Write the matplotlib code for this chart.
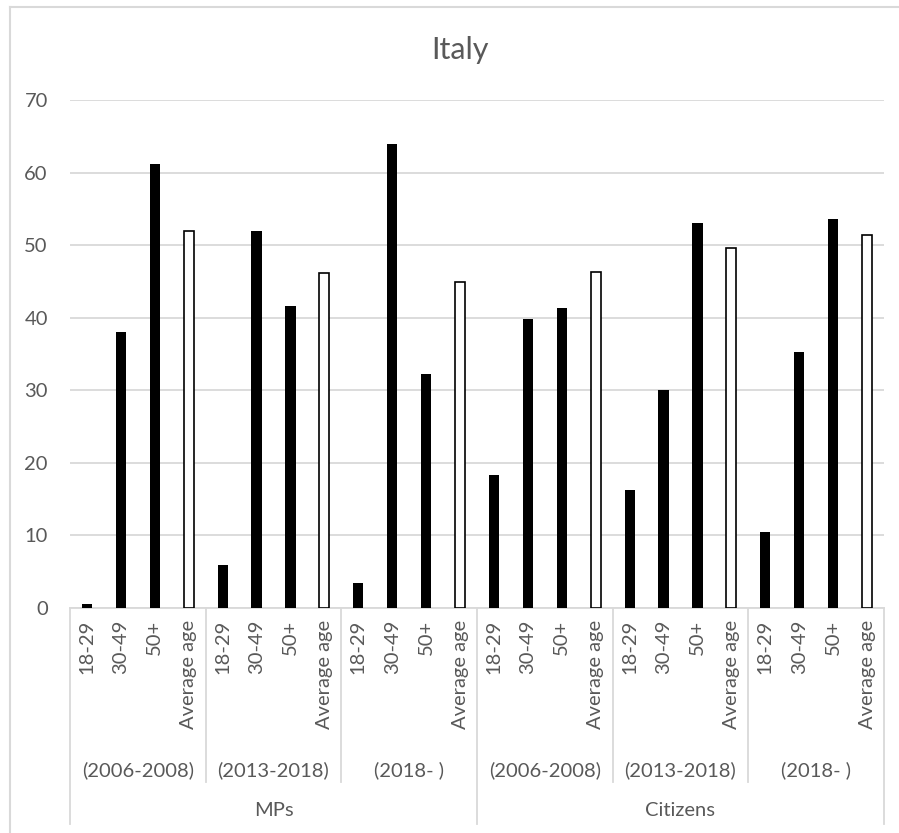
import matplotlib
matplotlib.use("Agg")
import matplotlib.pyplot as plt
from matplotlib.lines import Line2D

plt.rcParams['font.family'] = ['Lato', 'DejaVu Sans']

groups = ['MPs', 'Citizens']
periods = ['(2006-2008)', '(2013-2018)', '(2018- )']
categories = ['18-29', '30-49', '50+', 'Average age']

# values per group, per period, in category order
mps_values = [
    [0.5, 38.0, 61.2, 52.0],
    [5.9, 52.0, 41.6, 46.1],
    [3.4, 63.9, 32.3, 44.9],
]
citizens_values = [
    [18.3, 39.8, 41.4, 46.3],
    [16.3, 30.1, 53.0, 49.6],
    [10.5, 35.3, 53.6, 51.4],
]

W, H = 899, 833
fig = plt.figure(figsize=(W / 100, H / 100), dpi=100)
TEXT = '#595959'
GRID = '#d9d9d9'
FS = 14.5

# axes: x from 70 to 884 px, y from 608 (0) to 100 (70)
ax_l, ax_r, ax_b, ax_t = 70, 884, 608, 100
ax = fig.add_axes([ax_l / W, 1 - ax_b / H, (ax_r - ax_l) / W, (ax_b - ax_t) / H])

all_values = []
for block in (mps_values, citizens_values):
    for row in block:
        all_values.extend(row)

n = len(all_values)
for i, v in enumerate(all_values):
    is_avg = categories[i % 4] == 'Average age'
    ax.bar(i, v, width=0.3, color='white' if is_avg else 'black',
           edgecolor='black', linewidth=1.2 if is_avg else 0, zorder=3)

ax.set_xlim(-0.5, n - 0.5)
ax.set_ylim(0, 70)
ax.set_yticks(range(0, 71, 10))
ax.yaxis.grid(True, color=GRID, linewidth=1.3)
ax.set_axisbelow(True)
ax.tick_params(axis='y', length=0, labelsize=FS, labelcolor=TEXT, pad=16)
ax.set_xticks([])
for s in ['left', 'right', 'top']:
    ax.spines[s].set_visible(False)
ax.spines['bottom'].set_color(GRID)
ax.spines['bottom'].set_linewidth(1.3)

# multi-level category axis
ph = ax_b - ax_t
trans = ax.get_xaxis_transform()


def ay(px):
    # pixel y in figure -> axes fraction
    return (ax_b - px) / ph


for i in range(n):
    ax.text(i, ay(620), categories[i % 4], rotation=90, ha='center', va='top',
            fontsize=FS, color=TEXT, transform=trans, clip_on=False)

for g in range(len(groups)):
    for p in range(len(periods)):
        start = g * 12 + p * 4
        ax.text(start + 1.5, ay(770), periods[p], ha='center', va='center',
                fontsize=FS, color=TEXT, transform=trans, clip_on=False)
        if p > 0:
            ax.add_line(Line2D([start - 0.5, start - 0.5], [ay(608), ay(782)],
                               color=GRID, linewidth=1.3, transform=trans, clip_on=False))
    ax.text(g * 12 + 5.5, ay(810), groups[g], ha='center', va='center',
            fontsize=FS, color=TEXT, transform=trans, clip_on=False)

for xb in (-0.5, 11.5, n - 0.5):
    ax.add_line(Line2D([xb, xb], [ay(608), ay(824)], color=GRID, linewidth=1.3,
                       transform=trans, clip_on=False))

fig.text(460 / W, 1 - 59 / H, 'Italy', ha='center', va='baseline', fontsize=22, color=TEXT)

# chart border (only left and top edges fall inside the image)
fig.add_artist(Line2D([9.5 / W, 9.5 / W], [0, 1 - 7 / H], color=GRID, linewidth=1.5,
                      transform=fig.transFigure))
fig.add_artist(Line2D([9.5 / W, 1], [1 - 7 / H, 1 - 7 / H], color=GRID, linewidth=1.5,
                      transform=fig.transFigure))

fig.savefig('out.png', dpi=100)
